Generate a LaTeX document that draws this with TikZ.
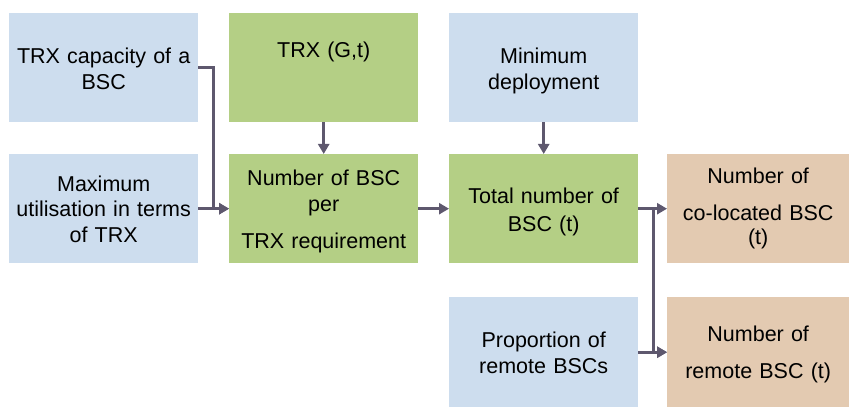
\documentclass[tikz,border=0pt]{standalone}
\usepackage{fontspec}
\setmainfont{Liberation Sans}
\usetikzlibrary{arrows.meta}
\definecolor{bluebox}{RGB}{205,221,238}
\definecolor{greenbox}{RGB}{180,207,133}
\definecolor{tanbox}{RGB}{227,202,177}
\definecolor{linec}{RGB}{94,88,110}
\tikzset{
  box/.style={anchor=north west, inner sep=0pt, align=center, text width=#1,
    font=\fontsize{21.5}{26}\selectfont},
  bbox/.style={box=189pt, fill=bluebox},
  gbox/.style={box=189pt, fill=greenbox},
  tbox/.style={box=182pt, fill=tanbox},
  conn/.style={draw=linec, line width=3pt, -{Triangle[length=10pt,width=11pt]}},
}
\begin{document}
\begin{tikzpicture}[x=1pt,y=-1pt]
\useasboundingbox (0,0) rectangle (850,414);
\node[bbox, text height=50pt, text depth=59pt] (cap) at (9,13) {TRX capacity of a\\BSC};
\node[bbox, text height=37pt, text depth=72pt] (maxu) at (9,154) {Maximum\\[-0.5pt]utilisation in terms\\[-0.5pt]of TRX};
\node[gbox, text height=44pt, text depth=65pt] (trx) at (229,13) {TRX (G,t)};
\node[gbox, text height=31pt, text depth=78pt] (nbsc) at (229,154) {Number of BSC\\per\\[11pt]TRX requirement};
\node[bbox, text height=50pt, text depth=59pt] (mind) at (449,13) {Minimum\\deployment};
\node[gbox, text height=49pt, text depth=60pt] (tot) at (449,154) {Total number of\\[2pt]BSC (t)};
\node[bbox, text height=50pt, text depth=60pt] (prop) at (449,297) {Proportion of\\remote BSCs};
\node[tbox, text height=29pt, text depth=80pt] (col) at (667,154) {Number of\\[11pt]co-located BSC\\[-2pt](t)};
\node[tbox, text height=44pt, text depth=66pt] (rem) at (667,297) {Number of\\[11pt]remote BSC (t)};
\draw[conn] (cap.east) -- ++(15,0) |- (nbsc.west);
\draw[conn] (maxu.east) -- (nbsc.west);
\draw[conn] (trx.south) -- (nbsc.north);
\draw[conn] (nbsc.east) -- (tot.west);
\draw[conn] (mind.south) -- (tot.north);
\draw[conn] (tot.east) -- (col.west);
\draw[conn] (tot.east) -- ++(15,0) |- (rem.west);
\draw[conn] (prop.east) -- (rem.west);
\end{tikzpicture}
\end{document}
